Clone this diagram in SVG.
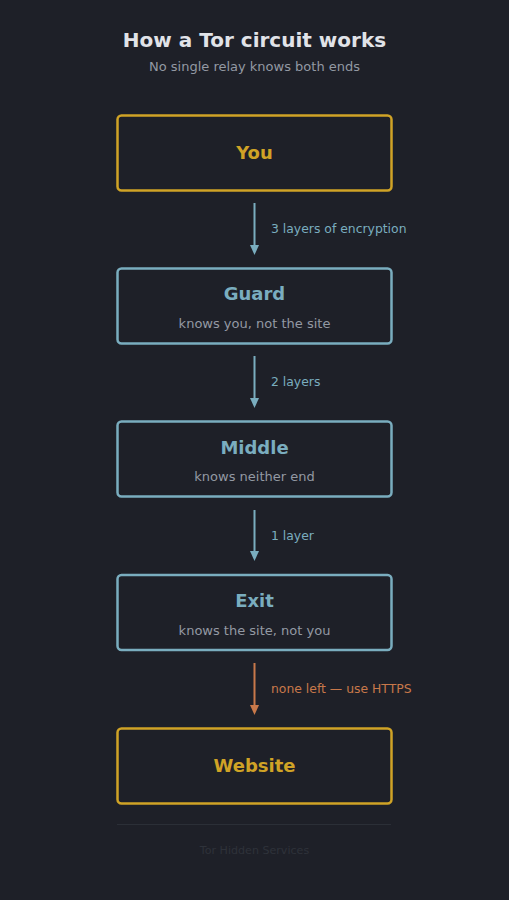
<svg xmlns="http://www.w3.org/2000/svg" width="509" height="900" viewBox="0 0 509 900">
<style>
text{font-family:"DejaVu Sans","Liberation Sans",sans-serif;text-anchor:middle}
.title{font-size:20px;font-weight:bold;fill:#e1e3e8}
.sub{font-size:13px;fill:#9399a3}
.box{fill:#1e2028;stroke-width:2.5}
.end{stroke:#d0a326}
.relay{stroke:#7aadbf}
.nt{font-size:18px;font-weight:bold}
.nt.y{fill:#d0a326}
.nt.b{fill:#7aadbf}
.ns{font-size:13px;fill:#9399a3}
.el{font-size:12.4px;text-anchor:start}
.foot{font-size:11.1px;fill:#2e323a}
</style>
<rect width="509" height="900" fill="#1e2028"/>
<text class="title" x="254.5" y="47">How a Tor circuit works</text>
<text class="sub" x="254.5" y="71">No single relay knows both ends</text>
<g id="connectors">
<line x1="254.5" y1="203" x2="254.5" y2="246" stroke="#7aadbf" stroke-width="2"/>
<path d="M250,245 L259,245 L254.5,255 Z" fill="#7aadbf"/>
<text class="el" x="271" y="233" fill="#7aadbf">3 layers of encryption</text>
<line x1="254.5" y1="356" x2="254.5" y2="399" stroke="#7aadbf" stroke-width="2"/>
<path d="M250,398 L259,398 L254.5,408 Z" fill="#7aadbf"/>
<text class="el" x="271" y="386" fill="#7aadbf">2 layers</text>
<line x1="254.5" y1="510" x2="254.5" y2="552" stroke="#7aadbf" stroke-width="2"/>
<path d="M250,551 L259,551 L254.5,561 Z" fill="#7aadbf"/>
<text class="el" x="271" y="540" fill="#7aadbf">1 layer</text>
<line x1="254.5" y1="663" x2="254.5" y2="706" stroke="#c8784a" stroke-width="2"/>
<path d="M250,705 L259,705 L254.5,715 Z" fill="#c8784a"/>
<text class="el" x="271" y="693" fill="#c8784a">none left — use HTTPS</text>
</g>
<g id="you">
<rect class="box end" x="117.5" y="115.5" width="274" height="75" rx="4"/>
<text class="nt y" x="254.5" y="159">You</text>
</g>
<g id="guard">
<rect class="box relay" x="117.5" y="268.5" width="274" height="75" rx="4"/>
<text class="nt b" x="254.5" y="300">Guard</text>
<text class="ns" x="254.5" y="328">knows you, not the site</text>
</g>
<g id="middle">
<rect class="box relay" x="117.5" y="421.5" width="274" height="75" rx="4"/>
<text class="nt b" x="254.5" y="454">Middle</text>
<text class="ns" x="254.5" y="481">knows neither end</text>
</g>
<g id="exit">
<rect class="box relay" x="117.5" y="575" width="274" height="75" rx="4"/>
<text class="nt b" x="254.5" y="607">Exit</text>
<text class="ns" x="254.5" y="635">knows the site, not you</text>
</g>
<g id="website">
<rect class="box end" x="117.5" y="728.5" width="274" height="75" rx="4"/>
<text class="nt y" x="254.5" y="772">Website</text>
</g>
<line x1="117" y1="824.5" x2="391" y2="824.5" stroke="#2b2f37" stroke-width="1"/>
<text class="foot" x="254.5" y="854">Tor Hidden Services</text>
</svg>
